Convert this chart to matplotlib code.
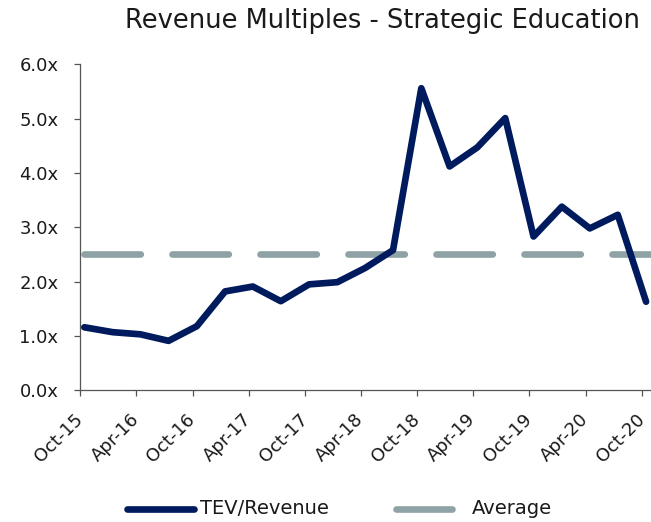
import matplotlib
matplotlib.use("Agg")
import matplotlib.pyplot as plt
from matplotlib.lines import Line2D
from matplotlib.transforms import ScaledTranslation
import datetime as dt

# Data
dates = ["2015-10-15", "2016-01-15", "2016-04-15", "2016-07-15", "2016-10-15",
         "2017-01-15", "2017-04-15", "2017-07-15", "2017-10-15", "2018-01-15",
         "2018-04-15", "2018-07-15", "2018-10-15", "2019-01-15", "2019-04-15",
         "2019-07-15", "2019-10-15", "2020-01-15", "2020-04-15", "2020-07-15",
         "2020-10-15"]
tev_revenue = [1.16, 1.07, 1.03, 0.91, 1.18, 1.82, 1.91, 1.64, 1.95, 1.99,
               2.25, 2.58, 5.56, 4.12, 4.47, 5.01, 2.83, 3.38, 2.98, 3.23, 1.63]
average = 2.5
tick_labels = ["Oct-15", "Apr-16", "Oct-16", "Apr-17", "Oct-17", "Apr-18",
               "Oct-18", "Apr-19", "Oct-19", "Apr-20", "Oct-20"]
tick_dates = ["2015-10-01", "2016-04-01", "2016-10-01", "2017-04-01", "2017-10-01",
              "2018-04-01", "2018-10-01", "2019-04-01", "2019-10-01", "2020-04-01",
              "2020-10-01"]
yticks = [0, 1, 2, 3, 4, 5, 6]
series_names = ["TEV/Revenue", "Average"]

plt.rcParams['font.family'] = ['DejaVu Sans']

x = [dt.datetime.strptime(d, "%Y-%m-%d") for d in dates]
xt = [dt.datetime.strptime(d, "%Y-%m-%d") for d in tick_dates]

navy = "#001A5E"
gray = "#8FA3A6"
txt = "#1a1a1a"
LW = 4.8

fig = plt.figure(figsize=(6.51, 5.22), dpi=100)
ax = fig.add_axes([80/651, 1-390.3/522, (651-80)/651, (390.3-64.3)/522])

ax.plot(x, tev_revenue, color=navy, lw=LW, solid_capstyle='round',
        solid_joinstyle='round', clip_on=False, zorder=3)
xmin = dt.datetime(2015, 10, 1)
xmax = dt.datetime(2020, 10, 31)
ax.plot([x[0], xmax], [average, average], color=gray, lw=LW,
        dashes=(8.45, 4.75), dash_capstyle='round', zorder=2, clip_on=False)

ax.set_xlim(xmin, xmax)
ax.set_ylim(0, 6)
ax.set_xticks(xt)
ax.set_xticklabels(tick_labels, rotation=45, ha='right', va='center',
                   rotation_mode='anchor', fontsize=13, color=txt)
for lab in ax.get_xticklabels():
    lab.set_transform(lab.get_transform() + ScaledTranslation(7/100, -2/100, fig.dpi_scale_trans))
ax.set_yticks(yticks)
ax.set_yticklabels([f"{v:.1f}x" for v in yticks], fontsize=13, color=txt)
for s in ['top', 'right']:
    ax.spines[s].set_visible(False)
for s in ['left', 'bottom']:
    ax.spines[s].set_color('#555555')
    ax.spines[s].set_linewidth(0.9)
ax.tick_params(axis='both', colors='#555555', length=4, width=0.9, labelcolor=txt)
ax.tick_params(axis='y', pad=11.5)
ax.tick_params(axis='x', pad=15)

fig.text(382/651, 1-21/522, "Revenue Multiples - Strategic Education",
         ha='center', va='center', fontsize=18.5, color=txt)

# manual legend
H = 522
def fx(px):
    return px / 651
def fy(py):
    return 1 - py / H
fig.add_artist(Line2D([fx(126.5), fx(193.5)], [fy(509), fy(509)], color=navy,
                      lw=LW, solid_capstyle='round'))
fig.text(fx(200), fy(508), series_names[0], ha='left', va='center',
         fontsize=14, color=txt)
fig.add_artist(Line2D([fx(395.5), fx(451.5)], [fy(509), fy(509)], color=gray,
                      lw=LW, solid_capstyle='round'))
fig.text(fx(472), fy(508), series_names[1], ha='left', va='center',
         fontsize=14, color=txt)

fig.savefig("out.png", dpi=100)
